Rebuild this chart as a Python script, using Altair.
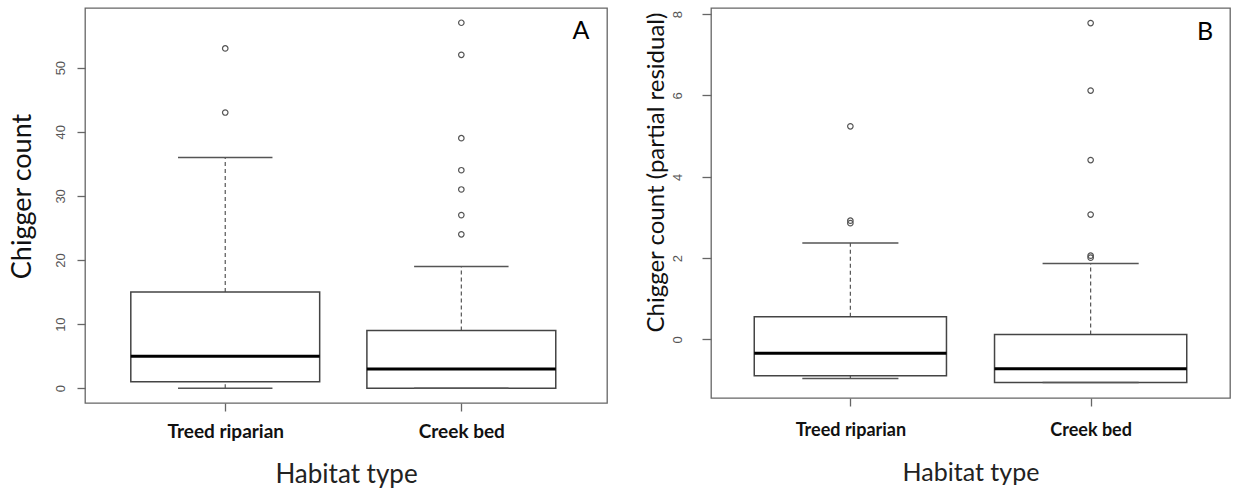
import altair as alt
import pandas as pd

# ---------------- data ----------------
categories = ["Treed riparian", "Creek bed"]
positions = [1, 2]

# Panel A: raw chigger counts
a_q1 = [1, 0]
a_median = [5, 3]
a_q3 = [15, 9]
a_whisk_lo = [0, 0]
a_whisk_hi = [36, 19]
a_out_treed = [43, 53]
a_out_creek = [24, 27, 31, 34, 39, 52, 57]
a_ticks = [0, 10, 20, 30, 40, 50]

# Panel B: partial residuals
b_q1 = [-0.89, -1.06]
b_median = [-0.34, -0.72]
b_q3 = [0.56, 0.12]
b_whisk_lo = [-0.96, -1.06]
b_whisk_hi = [2.37, 1.87]
b_out_treed = [2.86, 2.92, 5.24]
b_out_creek = [2.01, 2.06, 3.07, 4.41, 6.12, 7.78]
b_ticks = [0, 2, 4, 6, 8]

label_expr = (
    f"datum.value == {positions[0]} ? '{categories[0]}' : "
    f"(datum.value == {positions[1]} ? '{categories[1]}' : '')"
)


def panel(q1, med, q3, lo, hi, out_treed, out_creek, ticks, xdom, ydom,
          w, h, letter, opt):
    box = pd.DataFrame({
        "cat": categories, "pos": positions,
        "q1": q1, "med": med, "q3": q3, "lo": lo, "hi": hi,
    })
    outs = pd.DataFrame({
        "pos": [positions[0]] * len(out_treed) + [positions[1]] * len(out_creek),
        "val": list(out_treed) + list(out_creek),
    })
    xs = alt.Scale(domain=xdom, nice=False, zero=False)
    ys = alt.Scale(domain=ydom, nice=False, zero=False)
    xaxis = alt.Axis(
        values=positions, labelExpr=label_expr, title="Habitat type",
        grid=False, domain=False, tickSize=8, tickColor="#666", tickWidth=1.3,
        labelFont="Lato", labelFontWeight="bold", labelFontSize=opt["xlab_fs"],
        labelColor="#111", labelPadding=opt["xlab_pad"], labelBaseline="top",
        titleFont="Lato", titleFontWeight="normal", titleFontSize=opt["xtitle_fs"],
        titleColor="#222", titleY=opt["xtitle_y"], titleBaseline="alphabetic",
    )
    yaxis = alt.Axis(
        values=ticks, grid=False, domain=False, tickSize=opt["ytick"],
        tickColor="#666", tickWidth=1.3,
        labelAngle=270, labelAlign="center", labelBaseline="middle",
        labelFont="Liberation Sans", labelFontSize=13, labelColor="#555",
        labelPadding=opt["ylab_pad"],
        title=opt["ytitle"], titleFont="Lato", titleFontWeight="normal",
        titleFontSize=opt["ytitle_fs"], titleColor="#111", titleAngle=270,
        titleX=opt["ytitle_x"], titleY=opt["ytitle_y"], titleAlign="center",
        titleBaseline="middle",
    )

    base = alt.Chart(box).transform_calculate(
        x0="datum.pos - 0.4", x1="datum.pos + 0.4",
        c0="datum.pos - 0.2", c1="datum.pos + 0.2",
    )
    whisk_up = base.mark_rule(color="#555", strokeWidth=1.2, strokeDash=[4, 3]).encode(
        x=alt.X("pos:Q", scale=xs, axis=xaxis),
        y=alt.Y("q3:Q", scale=ys, axis=yaxis), y2="hi:Q")
    whisk_dn = base.mark_rule(color="#555", strokeWidth=1.2, strokeDash=[4, 3]).encode(
        x=alt.X("pos:Q", scale=xs, axis=xaxis),
        y=alt.Y("lo:Q", scale=ys, axis=yaxis), y2="q1:Q")
    boxes = base.mark_rect(fill="white", stroke="#444", strokeWidth=1.5).encode(
        x=alt.X("x0:Q", scale=xs, axis=xaxis), x2="x1:Q",
        y=alt.Y("q1:Q", scale=ys, axis=yaxis), y2="q3:Q")
    medians = base.mark_rule(color="black", strokeWidth=3).encode(
        x=alt.X("x0:Q", scale=xs, axis=xaxis), x2="x1:Q",
        y=alt.Y("med:Q", scale=ys, axis=yaxis))
    cap_hi = base.mark_rule(color="#555", strokeWidth=1.5).encode(
        x=alt.X("c0:Q", scale=xs, axis=xaxis), x2="c1:Q",
        y=alt.Y("hi:Q", scale=ys, axis=yaxis))
    cap_lo = base.mark_rule(color="#555", strokeWidth=1.5).encode(
        x=alt.X("c0:Q", scale=xs, axis=xaxis), x2="c1:Q",
        y=alt.Y("lo:Q", scale=ys, axis=yaxis))
    points = alt.Chart(outs).mark_point(
        shape="circle", filled=False, size=30, color="#555", strokeWidth=1.2, opacity=1
    ).encode(
        x=alt.X("pos:Q", scale=xs, axis=xaxis),
        y=alt.Y("val:Q", scale=ys, axis=yaxis))
    tag = alt.Chart(pd.DataFrame({"t": [letter]})).mark_text(
        font="Lato", fontSize=25, color="black", align="center", baseline="middle"
    ).encode(text="t:N", x=alt.value(opt["tag_x"]), y=alt.value(opt["tag_y"]))

    return alt.layer(whisk_up, whisk_dn, boxes, medians, cap_hi, cap_lo, points, tag
                     ).properties(width=w, height=h)


left = panel(a_q1, a_median, a_q3, a_whisk_lo, a_whisk_hi, a_out_treed, a_out_creek,
             a_ticks, [0.406, 2.617], [-2.3, 59.3], 522, 395, "A",
             dict(xlab_fs=19, xlab_pad=11, xtitle_fs=26, xtitle_y=79,
                  ytick=8, ylab_pad=17, ytitle="Chigger count", ytitle_fs=27,
                  ytitle_x=-63, ytitle_y=188, tag_x=496, tag_y=23))

right = panel(b_q1, b_median, b_q3, b_whisk_lo, b_whisk_hi, b_out_treed, b_out_creek,
              b_ticks, [0.42, 2.58], [-1.44, 8.15], 519, 390, "B",
              dict(xlab_fs=18, xlab_pad=15, xtitle_fs=25, xtitle_y=82,
                   ytick=9, ylab_pad=25, ytitle="Chigger count (partial residual)",
                   ytitle_fs=24, ytitle_x=-55, ytitle_y=164, tag_x=494, tag_y=24))

chart = alt.hconcat(
    left, right, spacing=104, bounds="flush",
    padding={"left": 7, "top": 7, "right": 0, "bottom": 0},
    background="white",
).configure_view(stroke="#666", strokeWidth=1.3)

chart.save("out.html", embed_options={"renderer": "svg", "actions": False})
